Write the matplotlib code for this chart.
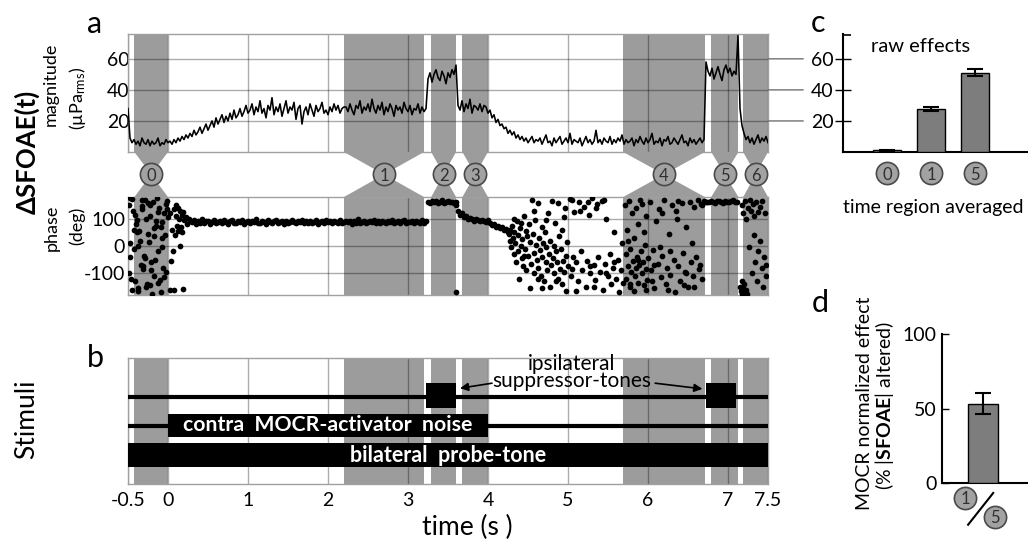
import numpy as np
import matplotlib
matplotlib.use('Agg')
import matplotlib.pyplot as plt
import matplotlib.transforms as mtrans
from matplotlib.patches import Polygon, ConnectionPatch

W, H = 1028, 544
plt.rcParams['font.family'] = ['Lato', 'DejaVu Sans']
plt.rcParams['mathtext.fontset'] = 'custom'
plt.rcParams['mathtext.rm'] = 'Lato'
plt.rcParams['mathtext.bf'] = 'Lato:bold'
plt.rcParams['mathtext.it'] = 'Lato:italic'
plt.rcParams['axes.unicode_minus'] = False

# ---------------- data ----------------
time_ticks = [-0.5, 0, 1, 2, 3, 4, 5, 6, 7, 7.5]
time_ticklabels = ['-0.5', '0', '1', '2', '3', '4', '5', '6', '7', '7.5']
region_ids = [0, 1, 2, 3, 4, 5, 6]
region_start = [-0.42, 2.2, 3.29, 3.68, 5.69, 6.79, 7.19]
region_end = [0.0, 3.2, 3.6, 4.0, 6.71, 7.13, 7.5]

# magnitude trace, sampled every 0.025 s from t = -0.5 s
mag_t0, mag_dt = -0.5, 0.025
mag_vals = [
    28, 9, 6, 8, 5, 7, 4, 9, 6, 5, 8, 4, 7, 5, 6, 9, 4, 6, 5, 8, 6,
    7, 5, 8, 6, 9, 7, 10, 8, 11, 9, 12, 10, 14, 11, 13, 16, 12, 15, 18, 14,
    17, 20, 16, 22, 18, 21, 24, 19, 23, 20, 25, 21, 27, 22, 24, 28, 23, 26, 30, 25,
    27, 31, 24, 29, 26, 33, 25, 28, 22, 30, 27, 35, 24, 29, 26, 31, 23, 28, 33, 25,
    29, 27, 32, 21, 28, 30, 18, 26, 29, 24, 31, 27, 23, 30, 26, 28, 32, 25, 27, 24,
    29, 26, 31, 27, 30, 25, 28, 29,
    29, 26, 31, 27, 24, 30, 28, 33, 25, 29, 27, 31, 26, 34, 28, 25, 30, 27, 32, 24,
    29, 26, 31, 28, 23, 30, 27, 29, 25, 32, 28, 26, 30, 24, 28, 27, 31, 25, 29, 26, 28,
    47, 51, 45, 50, 53, 48, 46, 52, 49, 44, 51, 48, 53, 50, 56,
    30, 27, 33, 26, 31, 28, 34, 25, 30, 29, 27, 31, 26, 30,
    29, 25, 27, 22, 24, 19, 21, 17, 18, 15, 16, 12, 14, 11, 13, 9, 11, 8, 10, 7,
    9, 6, 8, 10, 6, 8,
    7, 9, 5, 8, 11, 6, 7, 4, 9, 6, 8, 10, 5, 7, 9, 6, 12, 5, 8, 7,
    6, 9, 4, 7, 10, 6, 8, 5, 7, 14, 6, 8, 5, 9, 7, 6, 10, 5, 8, 6,
    9, 7, 11, 5, 8, 6, 7, 9, 4, 8, 6, 10, 7, 5, 9, 6, 8, 12, 5, 7,
    6, 9, 4, 8, 7, 10, 5, 6, 9, 7, 5, 8, 11, 6, 7, 4, 9, 6, 8, 5,
    7, 9, 6, 8,
    58, 52, 49, 54, 47, 51, 55, 50, 46, 53, 56, 51, 54, 49, 52, 50, 75,
    28, 17, 12, 8, 10, 6, 9, 5, 8, 11, 6, 9, 7, 10, 6,
]

# phase: dense constant-phase stretches sampled every 0.025 s
ph_dt = 0.025
band1_t0 = 0.3
band1 = [
    88, 95, 82, 91, 86, 99, 84, 90, 93, 80, 87, 96, 85, 89, 92, 83, 94, 88, 81, 90,
    97, 86, 84, 91, 89, 95, 82, 87, 93, 85, 90, 88, 98, 83, 86, 92, 89, 80, 94, 87,
    85, 91, 96, 84, 88, 90, 82, 93, 86, 89, 95, 87, 83, 91, 88, 97, 85, 90, 84, 92,
    86, 89, 94, 81, 88, 91, 85, 96, 87, 90, 83, 92, 88, 86, 95, 84, 89, 91, 87, 93,
    82, 90, 86, 98, 85, 89, 92, 84, 88, 91, 87, 95, 83, 90, 86, 93, 89, 85, 91, 88,
    96, 84, 87, 92, 86, 90, 94, 83, 89, 87, 91, 85, 93, 88, 86, 97, 84, 90,
]
band2_t0 = 3.25
band2 = [162, 158, 166, 160, 164, 157, 163, 168, 159, 161, 165, 160, 163, 158, 162]
band3_t0 = 3.6
band3 = [150, 128, 115, 120, 105, 110, 100, 102, 98, 92, 101, 95, 90, 97, 93, 88, 95,
         85, 78, 82, 70, 74, 65, 68, 58, 62, 50]
band5_t0 = 6.74
band5 = [163, 160, 166, 162, 158, 164, 167, 161, 159, 165, 162, 160, 164, 168, 161, 163]

# phase: scattered points (time s, phase deg)
scatter_pts = [
    (-0.49, 150), (-0.47, -40), (-0.45, 172), (-0.43, 60), (-0.41, -130), (-0.39, 95),
    (-0.37, -165), (-0.35, 20), (-0.33, 135), (-0.31, -85), (-0.29, 170), (-0.27, -150),
    (-0.25, 45), (-0.23, 110), (-0.21, -60), (-0.19, 160), (-0.17, -110), (-0.15, 75),
    (-0.13, -20), (-0.11, 140), (-0.09, -170), (-0.07, 30), (-0.05, 120), (-0.03, -95),
    (-0.01, 165), (-0.48, 10), (-0.46, -120), (-0.44, 130), (-0.42, -10), (-0.40, 80),
    (-0.38, -155), (-0.36, 55), (-0.34, -70), (-0.32, 168), (-0.30, -35), (-0.28, 100),
    (-0.26, -140), (-0.24, 15), (-0.22, 150), (-0.20, -175), (-0.18, 65), (-0.16, -50),
    (-0.14, 175), (-0.12, 125), (-0.10, -125), (-0.08, 88), (-0.06, -80), (-0.04, 40),
    (-0.02, 155), (0.00, 105), (-0.49, -100), (-0.45, -160), (-0.41, 115), (-0.37, 0),
    (-0.33, 148), (-0.29, -45), (-0.25, 158), (-0.21, -90), (-0.17, 35), (-0.13, -135),
    (-0.09, 70), (-0.05, -115), (-0.01, 135), (-0.47, 178), (-0.39, 50), (-0.31, -75),
    (-0.23, -145), (-0.15, 90), (-0.07, -5), (0.02, -160),
    (0.03, 120), (0.05, 60), (0.06, -18), (0.08, 135), (0.09, 40), (0.10, 110),
    (0.11, 75), (0.12, 140), (0.13, 55), (0.14, 100), (0.15, 130), (0.16, 70),
    (0.17, 115), (0.18, 50), (0.19, 125), (0.20, 95), (0.22, 105), (0.24, 80),
    (0.26, 100), (0.28, 92), (0.04, -55), (0.07, -160), (0.19, -158), (0.15, 0),
    (0.10, 150), (3.60, -168),
    (4.26, 45), (4.27, 20), (4.28, 60), (4.29, -5), (4.30, 75), (4.31, 30), (4.32, -30),
    (4.33, 50), (4.34, 10), (4.35, -60), (4.36, 90), (4.37, -20), (4.38, 40), (4.39, -120),
    (4.40, 65), (4.41, 0), (4.42, -45), (4.43, 25), (4.44, -75), (4.45, 110), (4.46, -10),
    (4.47, 55), (4.48, -90), (4.49, 35), (4.50, -35), (4.51, 80), (4.52, -155), (4.53, 15),
    (4.54, -65), (4.55, 170), (4.56, 45), (4.57, -25), (4.58, -100), (4.59, 95), (4.60, 5),
    (4.61, -50), (4.62, 158), (4.63, -80), (4.64, 30), (4.65, -15), (4.66, -110), (4.67, 70),
    (4.68, -40), (4.69, 10), (4.70, -130), (4.71, 50), (4.72, -60), (4.73, -5), (4.74, -90),
    (4.75, 120), (4.76, -30), (4.77, -150), (4.78, 20), (4.79, -70), (4.80, 164), (4.81, -45),
    (4.82, 0), (4.83, -100), (4.84, 85), (4.85, -20), (4.86, -60), (4.87, 158), (4.88, -120),
    (4.89, 35), (4.90, -85), (4.91, -10), (4.92, -140), (4.93, 60), (4.94, -55), (4.95, -95),
    (4.96, 140), (4.97, -35), (4.98, -165), (4.99, 15), (5.00, -75), (5.02, 172), (5.04, -110),
    (5.06, -40), (5.08, 125), (5.10, -60), (5.12, -130), (5.14, 160), (5.16, -20), (5.18, -90),
    (5.20, 145), (5.22, -150), (5.24, -55), (5.26, 115), (5.28, -100), (5.30, 175), (5.32, -70),
    (5.34, -125), (5.36, 155), (5.38, -40), (5.40, -95), (5.42, 165), (5.44, -160), (5.46, -65),
    (5.48, 100), (5.50, -110), (5.52, -30), (5.54, -140), (5.56, -80), (5.58, 50), (5.60, -120),
    (5.62, -50), (5.64, -170), (5.66, -90), (5.68, 10), (5.69, -135),
    (4.33, 100), (4.41, 85), (4.58, 130), (4.72, 95), (4.95, 105), (5.05, 168), (5.15, 130),
    (5.25, 160), (5.35, 140), (5.45, 170), (4.45, -35), (4.62, -120), (4.85, -130),
    (5.05, -85), (5.27, -75), (5.47, -100), (5.57, -60), (4.67, -155), (5.10, -165), (5.33, -150),
    (5.71, 150), (5.72, -30), (5.73, -120), (5.74, 60), (5.75, -75), (5.76, 165), (5.77, -150),
    (5.78, -10), (5.79, -95), (5.80, 120), (5.81, -55), (5.82, -165), (5.83, 30), (5.84, -110),
    (5.85, 140), (5.86, -40), (5.87, -135), (5.88, 80), (5.89, -70), (5.90, 170), (5.91, -20),
    (5.92, -100), (5.93, 155), (5.94, -60), (5.95, -145), (5.96, 5), (5.97, -85), (5.98, 110),
    (5.99, -125), (6.00, -45), (6.02, 160), (6.04, -90), (6.06, -15), (6.08, -155), (6.10, 90),
    (6.12, -65), (6.14, 135), (6.16, -115), (6.18, -35), (6.20, 168), (6.22, -140), (6.24, -80),
    (6.26, 45), (6.28, -105), (6.30, 150), (6.32, -50), (6.34, -170), (6.36, 100), (6.38, -75),
    (6.40, -130), (6.42, 158), (6.44, -25), (6.46, -95), (6.48, 70), (6.50, -150), (6.52, 162),
    (6.54, -60), (6.56, -110), (6.58, 145), (6.60, -40), (6.62, 170), (6.64, -85), (6.66, 155),
    (6.68, -120), (6.70, 165), (6.72, 160),
    (5.75, 20), (5.85, -80), (5.95, 50), (6.05, -130), (6.15, -5), (6.25, -160), (6.35, 130),
    (6.45, -145), (6.55, 10), (6.65, -70), (5.78, -140), (5.88, -50), (5.98, -160), (6.08, -70),
    (6.18, 120), (6.28, -20), (6.38, 165), (6.48, -100), (6.58, -150), (6.68, 150),
    (7.15, -150), (7.16, -165), (7.17, -130), (7.18, -175), (7.19, -155), (7.20, -140),
    (7.21, -170), (7.22, -160), (7.17, 150), (7.19, 120), (7.21, 165), (7.23, 100), (7.25, 140),
    (7.27, 170), (7.29, 130), (7.31, 155), (7.33, 110), (7.35, 160), (7.37, 125), (7.40, 145),
    (7.43, 165), (7.46, 120), (7.30, -100), (7.34, -60), (7.38, -20), (7.42, -80), (7.45, -40),
    (7.48, -110), (7.36, -130), (7.44, -150), (7.26, -5), (7.32, 40), (7.40, 20), (7.47, -70),
    (7.24, -175),
]

# stimuli (s)
probe_on, probe_off = -0.5, 7.5
noise_on, noise_off = 0.0, 4.0
sup_tones = [(3.22, 3.6), (6.72, 7.1)]

# panel c: raw effects
c_regions = [0, 1, 5]
c_vals = [1.0, 27.5, 51.2]
c_errs = [0.4, 1.4, 2.1]

# panel d: normalized effect
d_val = [53.3]
d_err = [7.1]

# ---------------- style ----------------
GRAY = '#9c9c9c'
BAR = '#7d7d7d'
CIRC = '#a2a2a2'
FRAME = '#a0a0a0'
GRIDC = 'k'
TICKFS = 14

fig = plt.figure(figsize=(W / 100, H / 100), dpi=100)


def rect(x0, y0, x1, y1):
    return [x0 / W, 1 - y1 / H, (x1 - x0) / W, (y1 - y0) / H]


def ftext(x, y, s, **kw):
    return fig.text(x / W, 1 - y / H, s, **kw)


def circ_label(ax, x, y, n, transform, ms=16, fs=12):
    ax.plot([x], [y], 'o', ms=ms, mfc=CIRC, mec='#4a4a4a', mew=1.2,
            transform=transform, clip_on=False, zorder=5)
    ax.text(x, y, str(n), ha='center', va='center_baseline', fontsize=fs,
            color='#303030', transform=transform, clip_on=False, zorder=6)


ax_m = fig.add_axes(rect(128, 34, 768, 152))
ax_mid = fig.add_axes(rect(128, 152, 768, 197))
ax_p = fig.add_axes(rect(128, 197, 768, 295))
ax_b = fig.add_axes(rect(128, 358, 768, 484))
ax_c = fig.add_axes(rect(843, 34, 1028, 152))
ax_d = fig.add_axes(rect(942, 334, 1028, 483))

for ax in (ax_m, ax_p, ax_b):
    ax.set_xlim(-0.5, 7.5)
    for s, e in zip(region_start, region_end):
        ax.axvspan(s, e, color=GRAY, lw=0, zorder=0.5)
    for sp in ax.spines.values():
        sp.set_color(FRAME)
        sp.set_linewidth(1)
    ax.set_xticks(time_ticks)
    ax.set_axisbelow('line')
    ax.grid(True, axis='x', color=GRIDC, alpha=0.33, lw=1)

# magnitude
mag_t = mag_t0 + mag_dt * np.arange(len(mag_vals))
ax_m.plot(mag_t, mag_vals, color='k', lw=1.15, zorder=3)
ax_m.set_ylim(0, 76)
ax_m.set_yticks([20, 40, 60])
ax_m.grid(True, axis='y', color=GRIDC, alpha=0.33, lw=1)
ax_m.tick_params(length=0, labelbottom=False, labelsize=TICKFS, pad=-1)

# phase
pt, pv = [], []
for t0, vals in ((band1_t0, band1), (band2_t0, band2), (band3_t0, band3), (band5_t0, band5)):
    pt.extend(t0 + ph_dt * np.arange(len(vals)))
    pv.extend(vals)
for t, v in scatter_pts:
    pt.append(t)
    pv.append(v)
ax_p.scatter(pt, pv, s=17, color='k', lw=0, zorder=3, clip_on=True)
ax_p.set_ylim(-180, 180)
ax_p.set_yticks([-100, 0, 100])
ax_p.grid(True, axis='y', color=GRIDC, alpha=0.33, lw=1)
ax_p.tick_params(length=0, labelbottom=False, labelsize=TICKFS, pad=2)

# connectors between magnitude and phase
ax_mid.set_xlim(-0.5, 7.5)
ax_mid.set_ylim(0, 1)
ax_mid.axis('off')
for n, s, e in zip(region_ids, region_start, region_end):
    xc = (s + e) / 2
    ax_mid.add_patch(Polygon([(s, 1), (e, 1), (xc, 0.5)], closed=True, fc=GRAY, ec='none'))
    ax_mid.add_patch(Polygon([(s, 0), (e, 0), (xc, 0.5)], closed=True, fc=GRAY, ec='none'))
    circ_label(ax_mid, xc, 0.5, n, ax_mid.transData)

# stimuli panel
ax_b.set_ylim(0, 1)
ax_b.set_yticks([])
ax_b.set_xticklabels(time_ticklabels)
ax_b.tick_params(length=0, labelsize=TICKFS, pad=6)
ax_b.broken_barh([(probe_on, probe_off - probe_on)], (0.138, 0.185), fc='k', zorder=3)
ax_b.plot([probe_on, probe_off], [0.46, 0.46], color='k', lw=3, zorder=3, solid_capstyle='butt')
ax_b.broken_barh([(noise_on, noise_off - noise_on)], (0.373, 0.183), fc='k', zorder=3)
ax_b.plot([probe_on, probe_off], [0.69, 0.69], color='k', lw=3, zorder=3, solid_capstyle='butt')
ax_b.broken_barh([(s, e - s) for s, e in sup_tones], (0.60, 0.20), fc='k', zorder=3)
ax_b.text((noise_on + noise_off) / 2, 0.4645, 'contra  MOCR-activator  noise', color='w',
          weight='bold', ha='center', va='center', fontsize=15.3, zorder=4)
ax_b.text((probe_on + probe_off) / 2, 0.23, 'bilateral  probe-tone', color='w',
          weight='bold', ha='center', va='center', fontsize=15.5, zorder=4)
mid_sup = (sup_tones[0][1] + sup_tones[1][0]) / 2
ax_b.text(mid_sup - 0.11, 0.885, 'ipsilateral\nsuppressor-tones', ha='center', va='center',
          fontsize=15, linespacing=0.82, zorder=4, clip_on=False)
ap = dict(arrowstyle='-|>', color='k', lw=1.2, mutation_scale=12, shrinkA=0, shrinkB=0)
ax_b.annotate('', xy=(sup_tones[0][1] + 0.05, 0.76), xytext=(sup_tones[0][1] + 0.45, 0.80),
              arrowprops=ap, zorder=4)
ax_b.annotate('', xy=(sup_tones[1][0] - 0.04, 0.755), xytext=(sup_tones[1][0] - 0.63, 0.80),
              arrowprops=ap, zorder=4)

# panel c
cpos = np.arange(len(c_vals))
ax_c.bar(cpos, c_vals, width=0.64, color=BAR, edgecolor='k', lw=1, yerr=c_errs,
         capsize=6, error_kw=dict(lw=1.5, capthick=1.5, ecolor='k'), zorder=3)
ax_c.set_xlim(-1.0, 3.2)
ax_c.set_ylim(0, 76)
ax_c.set_xticks([])
ax_c.set_yticks([20, 40, 60])
ax_c.set_yticks([75.5], minor=True)
ax_c.tick_params(axis='y', which='major', direction='inout', length=12, width=1, labelsize=TICKFS, pad=1)
ax_c.tick_params(axis='y', which='minor', direction='in', length=6, width=1.2)
ax_c.yaxis.set_minor_formatter(plt.NullFormatter())
for k in ('top', 'right'):
    ax_c.spines[k].set_visible(False)
for k in ('left', 'bottom'):
    ax_c.spines[k].set_linewidth(1.5)
blend_c = mtrans.blended_transform_factory(ax_c.transData, ax_c.transAxes)
for x, n in zip(cpos, c_regions):
    circ_label(ax_c, x, -0.178, n, blend_c)
for v in [20, 40, 60]:
    con = ConnectionPatch(xyA=(7.5, v), coordsA=ax_m.transData,
                          xyB=(-0.215, v / 76), coordsB=ax_c.transAxes,
                          color='#707070', lw=1)
    fig.add_artist(con)

# panel d
ax_d.bar([0], d_val, width=0.6, color=BAR, edgecolor='k', lw=1, yerr=d_err, capsize=6,
         error_kw=dict(lw=1.5, capthick=1.5, ecolor='k'), zorder=3)
ax_d.set_xlim(-0.8, 0.88)
ax_d.set_ylim(0, 100)
ax_d.set_xticks([])
ax_d.set_yticks([0, 50, 100])
ax_d.tick_params(axis='y', direction='in', length=5, width=1, labelsize=TICKFS, pad=4)
for k in ('top', 'right'):
    ax_d.spines[k].set_visible(False)
for k in ('left', 'bottom'):
    ax_d.spines[k].set_linewidth(1.5)
blend_d = mtrans.blended_transform_factory(ax_d.transData, ax_d.transAxes)
circ_label(ax_d, -0.35, -0.10, c_regions[1], blend_d)
circ_label(ax_d, 0.24, -0.228, c_regions[2], blend_d)
ax_d.plot([-0.29, 0.20], [-0.28, -0.067], color='k', lw=1.5, transform=blend_d, clip_on=False, zorder=4)

# ---------------- texts ----------------
ftext(95, 33, 'a', fontsize=22, ha='center', va='baseline')
ftext(95, 367, 'b', fontsize=22, ha='center', va='baseline')
ftext(818, 32, 'c', fontsize=22, ha='center', va='baseline')
ftext(820, 312, 'd', fontsize=22, ha='center', va='baseline')
ftext(27, 152, 'ΔSFOAE(t)', fontsize=18.5, weight='bold', rotation=90, ha='center', va='center')
ftext(51, 84, 'magnitude', fontsize=13, rotation=90, ha='center', va='center')
ftext(78, 98, '(µPa$_{\\rm rms}$)', fontsize=13, rotation=90, ha='center', va='center')
ftext(52, 228, 'phase', fontsize=13, rotation=90, ha='center', va='center')
ftext(77, 226, '(deg)', fontsize=13, rotation=90, ha='center', va='center')
ftext(27, 419, 'Stimuli', fontsize=19, rotation=90, ha='center', va='center')
ftext(467, 527, 'time (s )', fontsize=19, ha='center', va='center')
ftext(921, 46, 'raw effects', fontsize=14.5, ha='center', va='center')
ftext(933, 207, 'time region averaged', fontsize=14, ha='center', va='center')
ftext(864, 403, 'MOCR normalized effect', fontsize=14, rotation=90, ha='center', va='center')
ftext(884, 405, '(% |$\\mathbf{SFOAE}$| altered)', fontsize=14, rotation=90, ha='center', va='center')

fig.savefig('out.png', dpi=100)
